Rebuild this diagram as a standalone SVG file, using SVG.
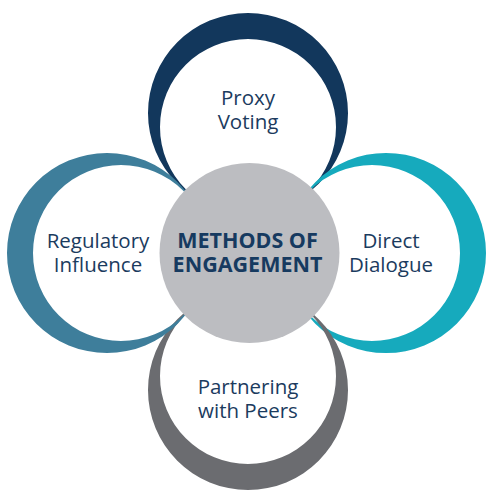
<svg xmlns="http://www.w3.org/2000/svg" width="487" height="491" viewBox="0 0 487 491">
<style>
.lbl{font-family:"Open Sans","Liberation Sans",sans-serif;font-size:20.5px;fill:#1b3b5e;text-anchor:middle}
.ctr{font-family:"Open Sans","Liberation Sans",sans-serif;font-size:21.5px;font-weight:bold;fill:#163a60;text-anchor:middle}
.cres{fill-rule:evenodd}
</style>
<rect width="487" height="491" fill="#ffffff"/>
<g id="connectors"></g>
<g id="proxy-voting">
<path class="cres" fill="#12375c" d="M148,113 a100,100 0 1,0 200,0 a100,100 0 1,0 -200,0 Z M160,127 a88,88 0 1,0 176,0 a88,88 0 1,0 -176,0 Z"/>
<text class="lbl" x="248" y="105">Proxy</text>
<text class="lbl" x="248" y="129">Voting</text>
</g>
<g id="direct-dialogue">
<path class="cres" fill="#16aabd" d="M286,253 a100,100 0 1,0 200,0 a100,100 0 1,0 -200,0 Z M284,253 a88,88 0 1,0 176,0 a88,88 0 1,0 -176,0 Z"/>
<text class="lbl" x="391" y="248">Direct</text>
<text class="lbl" x="391" y="272">Dialogue</text>
</g>
<g id="partnering-with-peers">
<path class="cres" fill="#6b6c70" d="M148,390 a100,100 0 1,0 200,0 a100,100 0 1,0 -200,0 Z M160,376 a88,88 0 1,0 176,0 a88,88 0 1,0 -176,0 Z"/>
<text class="lbl" x="248" y="394">Partnering</text>
<text class="lbl" x="248" y="418">with Peers</text>
</g>
<g id="regulatory-influence">
<path class="cres" fill="#3e7e9b" d="M7,253 a100,100 0 1,0 200,0 a100,100 0 1,0 -200,0 Z M33,253 a88,88 0 1,0 176,0 a88,88 0 1,0 -176,0 Z"/>
<text class="lbl" x="98" y="248">Regulatory</text>
<text class="lbl" x="98" y="272">Influence</text>
</g>
<g id="methods-of-engagement">
<circle cx="249.5" cy="253" r="90" fill="#bcbdc1"/>
<text class="ctr" x="247.5" y="248">METHODS OF</text>
<text class="ctr" x="247.5" y="272">ENGAGEMENT</text>
</g>
</svg>
